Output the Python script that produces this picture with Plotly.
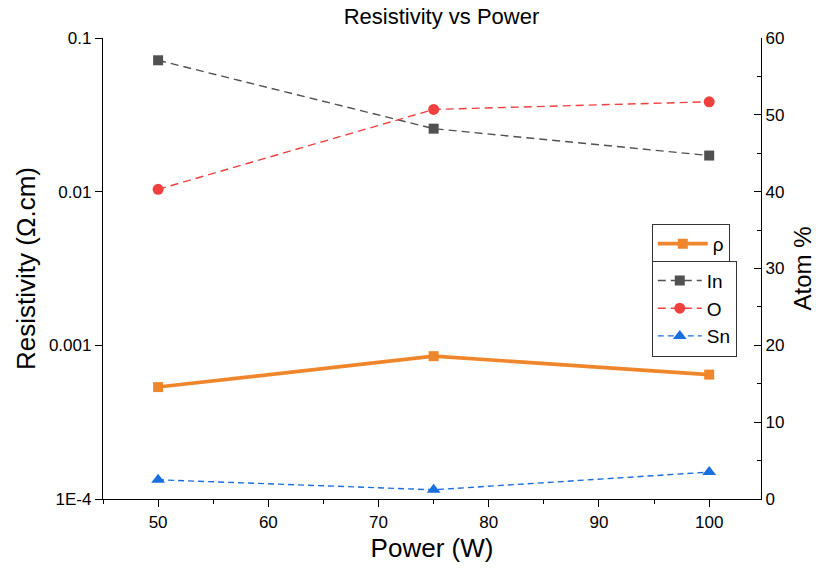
import plotly.graph_objects as go

# Sputtering power (W)
power = [50, 75, 100]

# Film resistivity (ohm.cm), left log axis
resistivity = [5.35e-4, 8.5e-4, 6.45e-4]

# Composition from EDS (atom %), right axis
indium = [57.1, 48.2, 44.7]
oxygen = [40.3, 50.7, 51.7]
tin = [2.5, 1.2, 3.5]

# Log-axis labels and the decades they sit on
log_major = [1e-4, 1e-3, 1e-2, 1e-1]
log_labels = ["1E-4", "0.001", "0.01", "0.1"]
log_minor = [m * d for d in log_major[:-1] for m in range(2, 10)]

FONT = "Arial, Liberation Sans, sans-serif"
ORANGE = "#F0862B"
GRAY = "#515151"
RED = "#F14040"
BLUE = "#1A6FDF"

fig = go.Figure()

fig.add_trace(go.Scatter(
    x=power, y=resistivity, name="ρ", mode="lines+markers",
    line=dict(color=ORANGE, width=3.6),
    marker=dict(symbol="square", size=10, color=ORANGE),
    legend="legend", yaxis="y",
))
fig.add_trace(go.Scatter(
    x=power, y=indium, name="In", mode="lines+markers",
    line=dict(color=GRAY, width=1.4, dash="8px,5px"),
    marker=dict(symbol="square", size=10, color=GRAY),
    legend="legend2", yaxis="y2",
))
fig.add_trace(go.Scatter(
    x=power, y=oxygen, name="O", mode="lines+markers",
    line=dict(color=RED, width=1.4, dash="8px,5px"),
    marker=dict(symbol="circle", size=11, color=RED),
    legend="legend2", yaxis="y2",
))
fig.add_trace(go.Scatter(
    x=power, y=tin, name="Sn", mode="lines+markers",
    line=dict(color=BLUE, width=1.4, dash="6px,4px"),
    marker=dict(symbol="triangle-up", size=12, color=BLUE),
    legend="legend2", yaxis="y2",
))

axis_common = dict(
    showline=True, linecolor="black", linewidth=1.3,
    ticklen=7, tickwidth=1.3, tickcolor="black",
    showgrid=False, zeroline=False, mirror=False, automargin=False,
    tickfont=dict(family=FONT, size=17, color="black"),
)

fig.update_layout(
    width=816, height=575,
    paper_bgcolor="white", plot_bgcolor="white",
    margin=dict(l=103, r=55, t=38, b=76),
    font=dict(family=FONT, color="black"),
    title=dict(text="Resistivity vs Power", x=0.541, xanchor="center",
               y=0.972, yanchor="middle",
               font=dict(family=FONT, size=22, color="black")),
    xaxis=dict(
        range=[45, 104.7], dtick=10, tick0=0, ticks="outside",
        title=dict(text="Power (W)", font=dict(family=FONT, size=26, color="black"),
                   standoff=8),
        minor=dict(ticks="outside", ticklen=4, dtick=5, tickcolor="black"),
        **axis_common,
    ),
    yaxis=dict(
        type="log", range=[-4, -1], ticks="outside",
        tickvals=log_major, ticktext=log_labels,
        title=dict(text="Resistivity (Ω.cm)",
                   font=dict(family=FONT, size=26, color="black"), standoff=5),
        **axis_common,
    ),
    # unlabeled companion axis carrying the log minor ticks
    yaxis3=dict(
        type="log", range=[-4, -1], overlaying="y", side="left", anchor="x",
        tickvals=log_minor, ticks="outside", ticklen=4, tickwidth=1.2,
        tickcolor="black", showticklabels=False, showline=False,
        showgrid=False, zeroline=False, automargin=False,
    ),
    yaxis2=dict(
        overlaying="y", side="right", anchor="x",
        range=[0, 60], dtick=10, ticks="inside",
        title=dict(text="Atom %", font=dict(family=FONT, size=24, color="black"),
                   standoff=18),
        minor=dict(ticks="inside", ticklen=4, dtick=5, tickcolor="black"),
        **axis_common,
    ),
    legend=dict(
        x=0.834, y=0.597, xanchor="left", yanchor="top",
        bgcolor="white", bordercolor="#333333", borderwidth=1,
        font=dict(family=FONT, size=19, color="black"),
        itemwidth=50, tracegroupgap=0,
    ),
    legend2=dict(
        x=0.834, y=0.517, xanchor="left", yanchor="top",
        bgcolor="white", bordercolor="#333333", borderwidth=1,
        font=dict(family=FONT, size=19, color="black"),
        itemwidth=44, tracegroupgap=0,
    ),
    showlegend=True,
)

fig.write_html("out.html")
